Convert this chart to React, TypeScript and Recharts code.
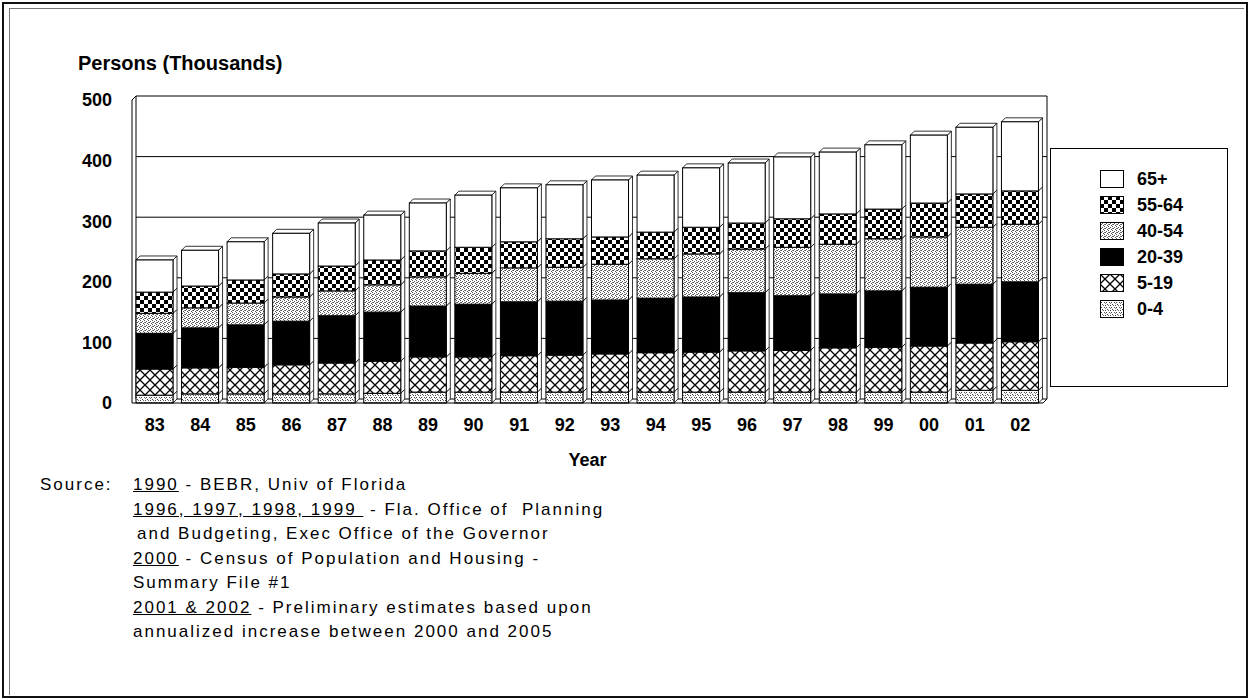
import React from "react";
import { BarChart, Bar, XAxis, YAxis, CartesianGrid, Legend, Label } from "recharts";

const YEARS = ["83", "84", "85", "86", "87", "88", "89", "90", "91", "92", "93", "94", "95", "96", "97", "98", "99", "00", "01", "02"];

// thousands of persons per age group
const AGE_0_4 = [13, 15, 15, 15, 15, 16, 18, 18, 18, 18, 18, 18, 18, 18, 18, 18, 18, 18, 21, 21];
const AGE_5_19 = [43, 43, 44, 48, 51, 53, 58, 58, 60, 61, 63, 65, 66, 68, 69, 73, 74, 76, 78, 80];
const AGE_20_39 = [59, 66, 70, 72, 78, 81, 84, 87, 89, 89, 89, 90, 91, 96, 90, 89, 93, 97, 97, 99];
const AGE_40_54 = [33, 33, 36, 40, 41, 45, 48, 51, 56, 56, 59, 65, 71, 72, 80, 82, 86, 83, 94, 95];
const AGE_55_64 = [35, 36, 38, 38, 41, 41, 43, 43, 43, 47, 45, 44, 44, 43, 47, 50, 49, 56, 55, 55];
const AGE_65_UP = [53, 59, 63, 67, 71, 74, 79, 86, 89, 89, 94, 94, 98, 99, 102, 102, 106, 112, 110, 114];

const Y_TICKS = [0, 100, 200, 300, 400, 500];

const SERIES = [
    { key: "a0", name: "0-4", values: AGE_0_4, fill: "url(#pat0)" },
    { key: "a5", name: "5-19", values: AGE_5_19, fill: "url(#pat5)" },
    { key: "a20", name: "20-39", values: AGE_20_39, fill: "#000" },
    { key: "a40", name: "40-54", values: AGE_40_54, fill: "url(#pat40)" },
    { key: "a55", name: "55-64", values: AGE_55_64, fill: "url(#pat55)" },
    { key: "a65", name: "65+", values: AGE_65_UP, fill: "#fff" },
];

const data = YEARS.map((year, i) => {
    const row: Record<string, string | number> = { year };
    SERIES.forEach((s) => (row[s.key] = s.values[i]));
    return row;
});

const FONT = "'Liberation Sans', Arial, Helvetica, sans-serif";
const DX = 4;
const DY = 4;

function Bar3D(props: any) {
    const { x, y, width, height, fill, top } = props;
    if (!height || height <= 0) return null;
    const side = `${x + width},${y} ${x + width + DX},${y - DY} ${x + width + DX},${y + height - DY} ${x + width},${y + height}`;
    const lid = `${x},${y} ${x + DX},${y - DY} ${x + width + DX},${y - DY} ${x + width},${y}`;
    return (
        <g>
            <polygon points={side} fill="#fff" stroke="#000" strokeWidth={0.8} />
            {top && <polygon points={lid} fill="#fff" stroke="#000" strokeWidth={0.8} />}
            <rect x={x} y={y} width={width} height={height} fill={fill} stroke="#000" strokeWidth={1} />
        </g>
    );
}

function renderLegend() {
    return (
        <div
            style={{
                width: 178,
                height: 239,
                boxSizing: "border-box",
                border: "1.5px solid #000",
                background: "#fff",
                paddingTop: 17,
                paddingLeft: 49,
                fontFamily: FONT,
            }}
        >
            {[...SERIES].reverse().map((s) => (
                <div key={s.key} style={{ display: "flex", alignItems: "center", height: 26 }}>
                    <svg width={24} height={18}>
                        <rect x={0.5} y={0.5} width={23} height={17} fill={s.fill} stroke="#000" strokeWidth={1} />
                    </svg>
                    <span style={{ marginLeft: 13, fontSize: 18, fontWeight: "bold", color: "#000" }}>{s.name}</span>
                </div>
            ))}
        </div>
    );
}

export default function App() {
    const u = { textDecoration: "underline" } as const;
    return (
        <div style={{ position: "absolute", left: 0, top: 0, width: 1253, height: 700, background: "#fff", fontFamily: FONT }}>
            {/* frame */}
            <div style={{ position: "absolute", left: 2, top: 2, width: 1246, height: 696, boxSizing: "border-box", border: "2px solid #111" }} />
            <div style={{ position: "absolute", left: 9, top: 8, width: 1234, height: 686, borderLeft: "1px solid #777", borderTop: "1px solid #777" }} />

            <div style={{ position: "absolute", left: 78, top: 52, fontSize: 20, fontWeight: "bold", color: "#000" }}>
                Persons (Thousands)
            </div>

            <div style={{ position: "absolute", left: 0, top: 0 }}>
                <BarChart
                    width={1253}
                    height={700}
                    data={data}
                    barSize={37}
                    margin={{ top: 100, right: 210, left: 72, bottom: 267 }}
                >
                    <defs>
                        <pattern id="pat55" width={8} height={8} patternUnits="userSpaceOnUse">
                            <rect width={8} height={8} fill="#fff" />
                            <rect x={0} y={0} width={4} height={4} fill="#000" />
                            <rect x={4} y={4} width={4} height={4} fill="#000" />
                        </pattern>
                        <pattern id="pat40" width={4} height={4} patternUnits="userSpaceOnUse">
                            <rect width={4} height={4} fill="#fff" />
                            <rect x={0} y={0} width={1} height={1} fill="#555" />
                            <rect x={2} y={1} width={1} height={1} fill="#555" />
                            <rect x={0} y={2} width={1} height={1} fill="#777" />
                            <rect x={1} y={2} width={1} height={1} fill="#555" />
                            <rect x={3} y={3} width={1} height={1} fill="#555" />
                        </pattern>
                        <pattern id="pat5" width={10} height={10} patternUnits="userSpaceOnUse">
                            <rect width={10} height={10} fill="#fff" />
                            <path d="M-1,-1 L11,11 M11,-1 L-1,11" stroke="#000" strokeWidth={1.3} />
                        </pattern>
                        <pattern id="pat0" width={5} height={5} patternUnits="userSpaceOnUse">
                            <rect width={5} height={5} fill="#fff" />
                            <rect x={0} y={0} width={1} height={1} fill="#444" />
                            <rect x={3} y={0} width={1} height={1} fill="#666" />
                            <rect x={1} y={2} width={1} height={1} fill="#444" />
                            <rect x={4} y={2} width={1} height={1} fill="#555" />
                            <rect x={2} y={4} width={1} height={1} fill="#444" />
                            <rect x={0} y={3} width={1} height={1} fill="#888" />
                        </pattern>
                    </defs>
                    <CartesianGrid
                        horizontal={(p: any) => (
                            <line
                                key={`h-${p.index}`}
                                x1={p.x1 + DX}
                                y1={p.y1 - DY}
                                x2={p.x2 + DX}
                                y2={p.y2 - DY}
                                stroke="#000"
                                strokeWidth={1}
                            />
                        )}
                        vertical={(p: any) =>
                            p.index === 0 ? (
                                <g key="wall-left">
                                    <line x1={p.x1} y1={p.y1} x2={p.x2} y2={p.y2} stroke="#000" strokeWidth={1} />
                                    <line x1={p.x1 + DX} y1={p.y1 - DY} x2={p.x2 + DX} y2={p.y2 - DY} stroke="#000" strokeWidth={1} />
                                    <line x1={p.x1} y1={p.y1} x2={p.x1 + DX} y2={p.y1 - DY} stroke="#000" strokeWidth={1} />
                                </g>
                            ) : (
                                <g key="wall-right">
                                    <line x1={p.x1 + DX} y1={p.y1 - DY} x2={p.x2 + DX} y2={p.y2 - DY} stroke="#000" strokeWidth={1} />
                                    <line x1={p.x2} y1={p.y2} x2={p.x2 + DX} y2={p.y2 - DY} stroke="#000" strokeWidth={1} />
                                </g>
                            )
                        }
                        verticalCoordinatesGenerator={({ offset }: any) => [offset.left, offset.left + offset.width]}
                    />
                    <XAxis
                        dataKey="year"
                        interval={0}
                        tickLine={false}
                        tickSize={0}
                        tickMargin={15}
                        axisLine={{ stroke: "#000", strokeWidth: 1 }}
                        tick={{ fill: "#000", fontSize: 18, fontWeight: "bold", fontFamily: FONT }}
                    >
                        <Label
                            value="Year"
                            position="bottom"
                            offset={20}
                            style={{ fill: "#000", fontSize: 18, fontWeight: "bold", fontFamily: FONT }}
                        />
                    </XAxis>
                    <YAxis
                        domain={[0, 500]}
                        ticks={Y_TICKS}
                        width={60}
                        axisLine={false}
                        tickLine={false}
                        tickSize={0}
                        tickMargin={20}
                        tick={{ fill: "#000", fontSize: 18, fontWeight: "bold", fontFamily: FONT }}
                    />
                    <Legend
                        layout="vertical"
                        align="center"
                        verticalAlign="middle"
                        wrapperStyle={{ left: 1050, top: 148, width: 178, height: 239 }}
                        content={renderLegend}
                    />
                    {SERIES.map((s, si) => (
                        <Bar
                            key={s.key}
                            dataKey={s.key}
                            name={s.name}
                            stackId="age"
                            fill={s.fill}
                            isAnimationActive={false}
                            shape={(p: any) => <Bar3D {...p} fill={s.fill} top={si === SERIES.length - 1} />}
                        />
                    ))}
                </BarChart>
            </div>

            <div style={{ position: "absolute", left: 40, top: 473, fontSize: 17, letterSpacing: 2, lineHeight: "24.5px", color: "#000" }}>
                Source:
            </div>
            <div style={{ position: "absolute", left: 133, top: 473, fontSize: 17, letterSpacing: 2, lineHeight: "24.5px", color: "#000", whiteSpace: "nowrap" }}>
                <div><span style={u}>1990</span> - BEBR, Univ of Florida</div>
                <div><span style={u}>1996, 1997, 1998, 1999&nbsp;</span> - Fla. Office of&nbsp; Planning</div>
                <div style={{ paddingLeft: 4 }}>and Budgeting, Exec Office of the Governor</div>
                <div><span style={u}>2000</span> - Census of Population and Housing -</div>
                <div>Summary File #1</div>
                <div><span style={u}>2001 &amp; 2002</span> - Preliminary estimates based upon</div>
                <div>annualized increase between 2000 and 2005</div>
            </div>
        </div>
    );
}
